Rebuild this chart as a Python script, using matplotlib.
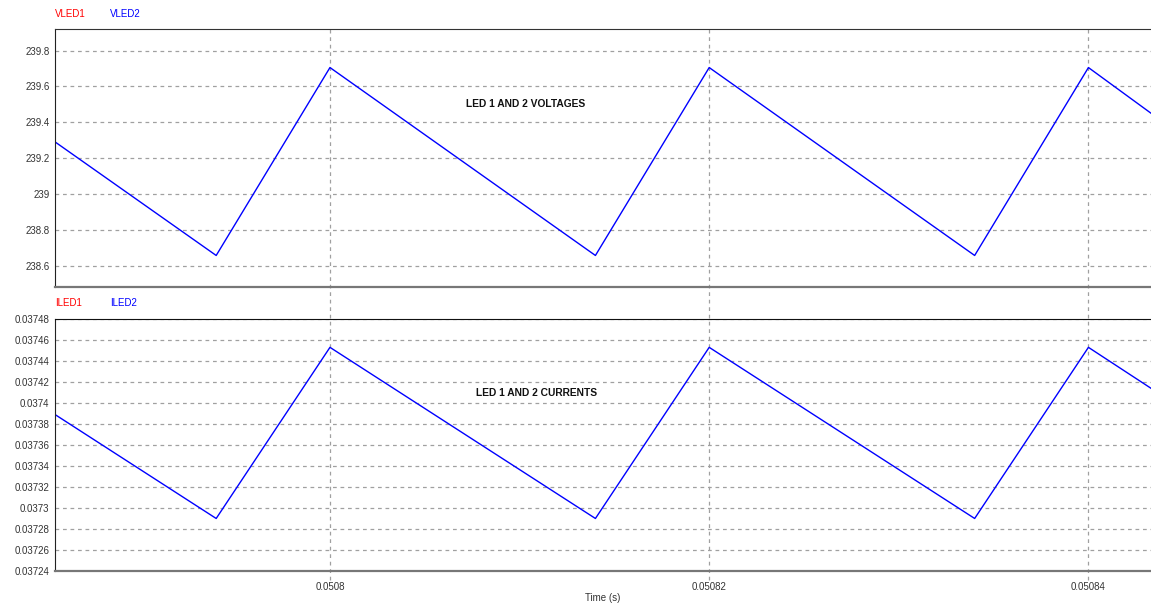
import matplotlib
matplotlib.use("Agg")
import matplotlib.pyplot as plt
import numpy as np

# temps (s) des sommets de la forme d'onde
t = [0.0507855, 0.050794, 0.0508, 0.050814, 0.05082, 0.050834, 0.05084, 0.0508433]
# tensions LED (V)
vled = [239.29, 238.656, 239.705, 238.656, 239.705, 238.656, 239.705, 239.45]
# courants LED (A)
iled = [0.037389, 0.037290, 0.037453, 0.037290, 0.037453, 0.037290, 0.037453, 0.037414]

v_ticks = [238.6, 238.8, 239, 239.2, 239.4, 239.6, 239.8]
v_labels = ["238.6", "238.8", "239", "239.2", "239.4", "239.6", "239.8"]
i_ticks = np.round(np.arange(0.03724, 0.037481, 0.00002), 5)
i_labels = ["0.03724", "0.03726", "0.03728", "0.0373", "0.03732", "0.03734",
            "0.03736", "0.03738", "0.0374", "0.03742", "0.03744", "0.03746", "0.03748"]
t_ticks = [0.0508, 0.05082, 0.05084]
t_labels = ["0.0508", "0.05082", "0.05084"]

plt.rcParams['font.family'] = ['Liberation Sans', 'DejaVu Sans']

fig = plt.figure(figsize=(11.51, 6.06), dpi=100)
ax1 = fig.add_axes([0.0478, 0.5264, 0.9522, 0.4257])
ax2 = fig.add_axes([0.0478, 0.0578, 0.9522, 0.4158])

grid_col = "#a0a0a0"

def style(ax, yt, yl, ylim, ext):
    ax.set_xlim(t[0], t[-1])
    ax.set_ylim(*ylim)
    ax.set_yticks(yt)
    ax.set_yticklabels(yl)
    ax.set_xticks(t_ticks)
    ax.tick_params(axis='both', length=0, labelsize=7, colors="#333333", pad=4)
    ax.grid(True, axis='y', linestyle=(0, (3, 3)), color=grid_col, linewidth=0.9)
    ax.spines['right'].set_visible(False)
    ax.spines['left'].set_color("#222222")
    ax.spines['top'].set_color("#333333")
    ax.spines['bottom'].set_color("#777777")
    ax.spines['bottom'].set_linewidth(1.6)
    # lignes verticales qui debordent un peu sous l'axe
    for x in t_ticks:
        ax.axvline(x, ymin=-ext, ymax=1, color=grid_col, linestyle=(0, (3, 3)),
                   linewidth=0.9, clip_on=False, zorder=0)

# panneau des tensions
ax1.plot(t, vled, color="#0000ff", linewidth=1)
style(ax1, v_ticks, v_labels, (238.48, 239.92), 0.12)
ax1.set_xticklabels([])
ax1.text(0.0, 1.04, "VLED1", color="red", fontsize=7, transform=ax1.transAxes, va='bottom')
ax1.text(0.05, 1.04, "VLED2", color="blue", fontsize=7, transform=ax1.transAxes, va='bottom')
ax1.text(0.0508103, 239.504, "LED 1 AND 2 VOLTAGES", fontsize=7.4, fontweight='bold',
         ha='center', va='center', color="#111111")

# panneau des courants
ax2.plot(t, iled, color="#0000ff", linewidth=1)
style(ax2, i_ticks, i_labels, (0.03724, 0.03748), 0.035)
ax2.set_xticklabels(t_labels)
ax2.tick_params(axis='x', pad=8)
ax2.spines['top'].set_color("#111111")
ax2.text(0.0, 1.045, "ILED1", color="red", fontsize=7, transform=ax2.transAxes, va='bottom')
ax2.text(0.05, 1.045, "ILED2", color="blue", fontsize=7, transform=ax2.transAxes, va='bottom')
ax2.text(0.0508109, 0.0374095, "LED 1 AND 2 CURRENTS", fontsize=7.4, fontweight='bold',
         ha='center', va='center', color="#111111")
ax2.set_xlabel("Time (s)", fontsize=7, color="#333333", labelpad=1)

fig.savefig("out.png", dpi=100)
